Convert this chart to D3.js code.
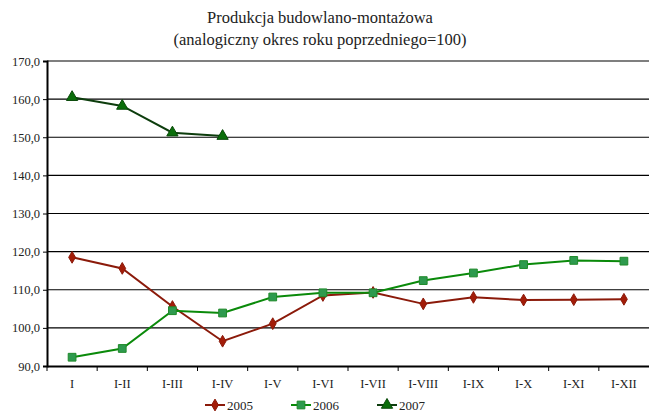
<!DOCTYPE html>
<html>
<head>
<meta charset="utf-8">
<script src="https://cdn.jsdelivr.net/npm/d3@7"></script>
<style>
  body { margin: 0; background: #fff; }
  svg text { font-family: "Liberation Serif", "DejaVu Serif", serif; fill: #222; }
</style>
</head>
<body>
<div id="vis"></div>
<script>
// categories (cumulative periods)
const periods = ['I', 'I-II', 'I-III', 'I-IV', 'I-V', 'I-VI', 'I-VII', 'I-VIII', 'I-IX', 'I-X', 'I-XI', 'I-XII']
const yTicks = [90, 100, 110, 120, 130, 140, 150, 160, 170]

const v2005 = [118.5, 115.6, 105.6, 96.5, 101.1, 108.5, 109.3, 106.3, 108.0, 107.3, 107.4, 107.5]
const v2006 = [92.3, 94.6, 104.5, 103.9, 108.1, 109.2, 109.2, 112.4, 114.4, 116.6, 117.7, 117.5]
const v2007 = [160.5, 158.2, 151.2, 150.3]

const series = [
  {name: '2005', values: v2005, line: '#8b1a0a', fill: '#a31c08', stroke: '#8b1a0a', symbol: d3.symbolDiamond, size: 40},
  {name: '2006', values: v2006, line: '#0a8a0a', fill: '#2e9a4e', stroke: '#1f8a2a', symbol: d3.symbolSquare, size: 60},
  {name: '2007', values: v2007, line: '#0d3d0d', fill: '#0a6e0a', stroke: '#0a4a0a', symbol: d3.symbolTriangle, size: 55}
]

const W = 649, H = 412
const margin = {top: 61, right: 0, bottom: 46, left: 47}
const width = W - margin.left - margin.right
const height = H - margin.top - margin.bottom
const serif = '"Liberation Serif", "DejaVu Serif", serif'

const svg = d3.select('#vis').append('svg')
    .attr('width', W)
    .attr('height', H)

// title
svg.append('text')
    .attr('x', 320).attr('y', 23)
    .attr('text-anchor', 'middle')
    .style('font-size', '16.5px')
    .text('Produkcja budowlano-montażowa')
svg.append('text')
    .attr('x', 320).attr('y', 45)
    .attr('text-anchor', 'middle')
    .style('font-size', '16.5px')
    .text('(analogiczny okres roku poprzedniego=100)')

const g = svg.append('g')
    .attr('transform', `translate(${margin.left},${margin.top})`)

const xScale = d3.scaleBand()
    .domain(periods)
    .range([0, width])

const yScale = d3.scaleLinear()
    .domain([90, 170])
    .range([height, 0])

// gridlines
g.selectAll('.grid')
  .data(yTicks.filter(d => d > 90))
  .join('line')
    .attr('class', 'grid')
    .attr('x1', 0).attr('x2', width)
    .attr('y1', d => yScale(d)).attr('y2', d => yScale(d))
    .attr('stroke', '#000')
    .attr('stroke-width', 1.2)

// y axis
const yAxis = d3.axisLeft(yScale)
    .tickValues(yTicks)
    .tickSize(4)
    .tickPadding(3)
    .tickFormat(d => d3.format('.1f')(d).replace('.', ','))
const yG = g.append('g').call(yAxis)
    .attr('font-family', serif)
    .attr('font-size', 12.5)
yG.select('.domain').attr('stroke', '#000').attr('stroke-width', 2)
yG.selectAll('.tick line').attr('stroke', '#000')
yG.selectAll('text').attr('fill', '#222')

// x axis
const xAxis = d3.axisBottom(xScale)
    .tickSize(0)
    .tickPadding(13)
const xG = g.append('g')
    .attr('transform', `translate(0,${height})`)
    .call(xAxis)
    .attr('font-family', serif)
    .attr('font-size', 12.5)
xG.select('.domain').attr('stroke', '#000').attr('stroke-width', 2)
xG.selectAll('text').attr('fill', '#222')

// x tick marks on category boundaries
g.selectAll('.xtick')
  .data(periods)
  .join('line')
    .attr('class', 'xtick')
    .attr('x1', d => xScale(d)).attr('x2', d => xScale(d))
    .attr('y1', height).attr('y2', height + 5)
    .attr('stroke', '#000')

const line = d3.line()
    .x((d, i) => xScale(periods[i]) + xScale.bandwidth() / 2)
    .y(d => yScale(d))

series.forEach(s => {
  g.append('path')
      .datum(s.values)
      .attr('fill', 'none')
      .attr('stroke', s.line)
      .attr('stroke-width', 2)
      .attr('d', line)

  g.selectAll(null)
    .data(s.values)
    .join('path')
      .attr('transform', (d, i) => `translate(${xScale(periods[i]) + xScale.bandwidth() / 2},${yScale(d)})`)
      .attr('d', d3.symbol().type(s.symbol).size(s.size))
      .attr('fill', s.fill)
      .attr('stroke', s.stroke)
      .attr('stroke-width', 1)
})

// legend
const legendX = [205, 291, 377]
const legend = svg.append('g').attr('transform', 'translate(0,405)')
series.forEach((s, i) => {
  const lg = legend.append('g').attr('transform', `translate(${legendX[i]},0)`)
  lg.append('line')
      .attr('x1', 0).attr('x2', 20)
      .attr('stroke', s.line).attr('stroke-width', 2)
  lg.append('path')
      .attr('transform', 'translate(10,0)')
      .attr('d', d3.symbol().type(s.symbol).size(s.size))
      .attr('fill', s.fill).attr('stroke', s.stroke)
  lg.append('text')
      .attr('x', 22).attr('y', 4.5)
      .style('font-size', '13px')
      .text(s.name)
})
</script>
</body>
</html>
